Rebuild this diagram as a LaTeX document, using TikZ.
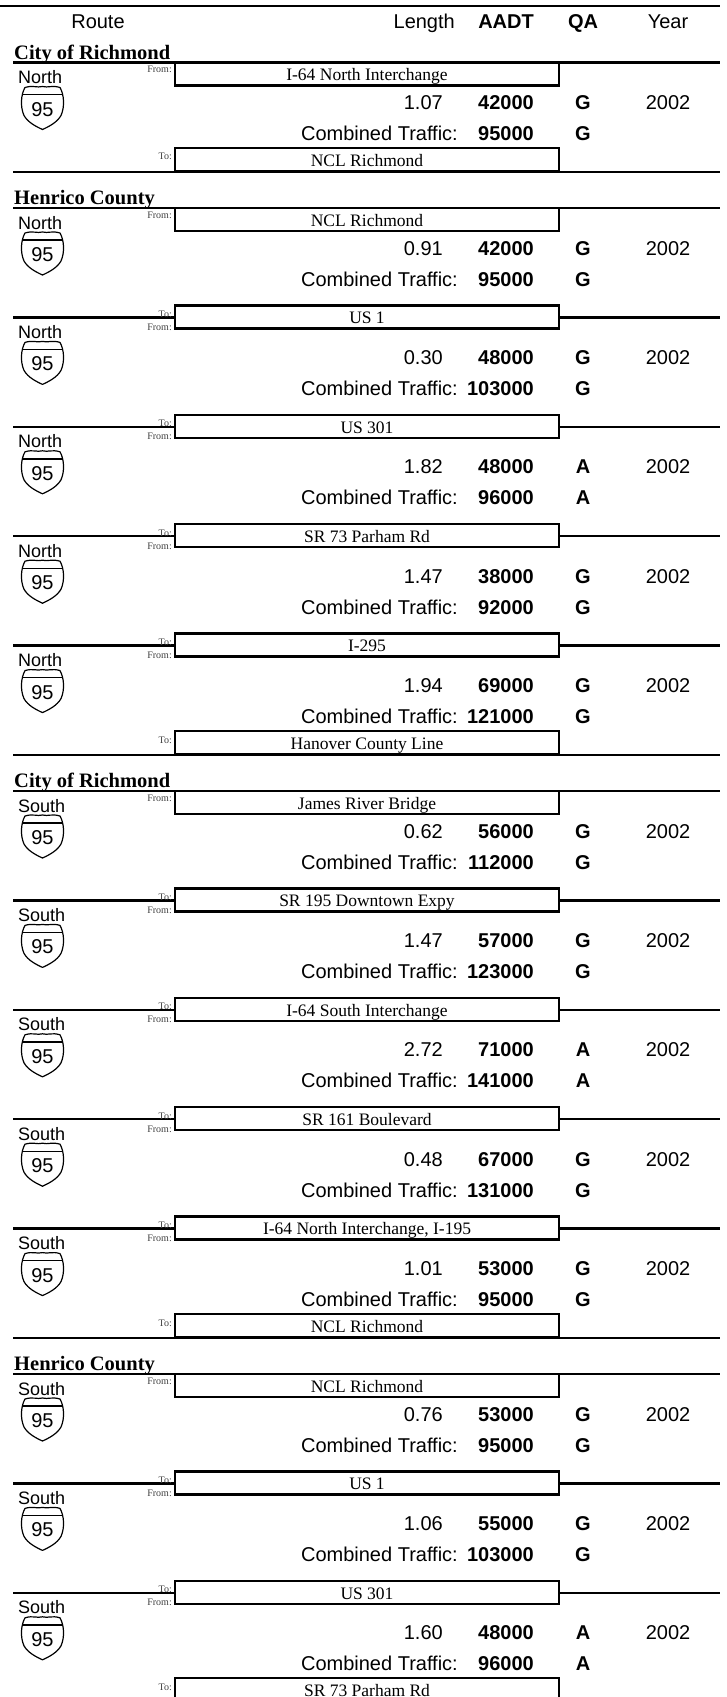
\documentclass[tikz,border=0pt]{standalone}
\usepackage{fontspec}
\setmainfont{Liberation Sans}
\newfontfamily\serifface{Liberation Serif}
\usepackage{tikz}

\begin{document}
\begin{tikzpicture}[x=1pt, y=-1pt,
    rule/.style={line width=2.5pt},
    county/.style={font=\serifface\bfseries\fontsize{20.5}{24}\selectfont, inner sep=0pt, anchor=base west},
    dir/.style={font=\fontsize{18}{20}\selectfont, inner sep=0pt, anchor=base west},
    num/.style={font=\fontsize{20}{24}\selectfont, inner sep=0pt, anchor=base east},
    bnum/.style={font=\bfseries\fontsize{20}{24}\selectfont, inner sep=0pt, anchor=base east},
    grade/.style={font=\bfseries\fontsize{20}{24}\selectfont, inner sep=0pt, anchor=base},
    yr/.style={font=\fontsize{20}{24}\selectfont, inner sep=0pt, anchor=base},
    stop/.style={draw, line width=2.5pt, fill=white, minimum width=384pt, minimum height=23pt, inner sep=0pt, text height=13.6pt, text depth=0pt, font=\serifface\fontsize{17.5}{20}\selectfont},
    tag/.style={font=\serifface\fontsize{10}{12}\selectfont, text=black!75, inner sep=0pt, anchor=base east},
    shield/.pic={
        \draw [line width=1.2pt, line join=round] (4, 1) .. controls (12, -1.5) and (16, 1.5) .. (21.5, 0) .. controls (27, 1.5) and (31, -1.5) .. (39, 1)
            .. controls (43, 8) and (44, 20) .. (40, 29) .. controls (36, 36) and (28, 40) .. (21.5, 43)
            .. controls (15, 40) and (7, 36) .. (3, 29) .. controls (-1, 20) and (0, 8) .. (4, 1) -- cycle;
        \draw [line width=1.4pt] (1.6, 8) -- (41.4, 8);
        \node (num) at (21.5, 29.5) [yr] {95};
    }]
    \useasboundingbox (0, 0) rectangle (727, 1697);
    \clip (0, 0) rectangle (727, 1697);

    \draw [rule] (0, 6) -- (720, 6);
    \draw [rule] (13, 62.5) -- (720, 62.5);
    \draw [rule] (13, 171.9) -- (720, 171.9);
    \draw [rule] (13, 208) -- (720, 208);
    \draw [rule] (13, 317.4) -- (720, 317.4);
    \draw [rule] (13, 426.8) -- (720, 426.8);
    \draw [rule] (13, 536.2) -- (720, 536.2);
    \draw [rule] (13, 645.6) -- (720, 645.6);
    \draw [rule] (13, 755) -- (720, 755);
    \draw [rule] (13, 791) -- (720, 791);
    \draw [rule] (13, 900.4) -- (720, 900.4);
    \draw [rule] (13, 1009.8) -- (720, 1009.8);
    \draw [rule] (13, 1119.2) -- (720, 1119.2);
    \draw [rule] (13, 1228.6) -- (720, 1228.6);
    \draw [rule] (13, 1338) -- (720, 1338);
    \draw [rule] (13, 1374) -- (720, 1374);
    \draw [rule] (13, 1483.4) -- (720, 1483.4);
    \draw [rule] (13, 1592.8) -- (720, 1592.8);

    \node (route) at (98, 28.5) [yr] {Route};
    \node (length) at (455, 28.5) [num] {Length};
    \node (aadt) at (534, 28.5) [bnum] {AADT};
    \node (qa) at (583, 28.5) [grade] {QA};
    \node (year) at (668, 28.5) [yr] {Year};

    \begin{scope}
        \clip (0, 30) rectangle (400, 62.5) (0, 175) rectangle (400, 208) (0, 758) rectangle (400, 791) (0, 1341) rectangle (400, 1374);
        \node (city1) at (14, 59.2) [county] {City of Richmond};
        \node (henrico1) at (14, 204.7) [county] {Henrico County};
        \node (city2) at (14, 787.7) [county] {City of Richmond};
        \node (henrico2) at (14, 1370.7) [county] {Henrico County};
    \end{scope}

    \node (s0) at (367, 74) [stop] {I-64 North Interchange};
    \node (s1) at (367, 159.4) [stop] {NCL Richmond};
    \node (s2) at (367, 219.5) [stop] {NCL Richmond};
    \node (s3) at (367, 316.9) [stop] {US 1};
    \node (s4) at (367, 426.3) [stop] {US 301};
    \node (s5) at (367, 535.7) [stop] {SR 73 Parham Rd};
    \node (s6) at (367, 645.1) [stop] {I-295};
    \node (s7) at (367, 742.5) [stop] {Hanover County Line};
    \node (s8) at (367, 802.5) [stop] {James River Bridge};
    \node (s9) at (367, 899.9) [stop] {SR 195 Downtown Expy};
    \node (s10) at (367, 1009.3) [stop] {I-64 South Interchange};
    \node (s11) at (367, 1118.7) [stop] {SR 161 Boulevard};
    \node (s12) at (367, 1228.1) [stop] {I-64 North Interchange, I-195};
    \node (s13) at (367, 1325.5) [stop] {NCL Richmond};
    \node (s14) at (367, 1385.5) [stop] {NCL Richmond};
    \node (s15) at (367, 1482.9) [stop] {US 1};
    \node (s16) at (367, 1592.3) [stop] {US 301};
    \node (s17) at (367, 1689.7) [stop] {SR 73 Parham Rd};

    \node (f0) at (172, 72.5) [tag] {From:};
    \node (t1) at (172, 159.9) [tag] {To:};
    \node (f2) at (172, 218) [tag] {From:};
    \node (t3) at (172, 317.4) [tag] {To:};
    \node (f3) at (172, 330.4) [tag] {From:};
    \node (t4) at (172, 426.8) [tag] {To:};
    \node (f4) at (172, 439.8) [tag] {From:};
    \node (t5) at (172, 536.2) [tag] {To:};
    \node (f5) at (172, 549.2) [tag] {From:};
    \node (t6) at (172, 645.6) [tag] {To:};
    \node (f6) at (172, 658.6) [tag] {From:};
    \node (t7) at (172, 743) [tag] {To:};
    \node (f8) at (172, 801) [tag] {From:};
    \node (t9) at (172, 900.4) [tag] {To:};
    \node (f9) at (172, 913.4) [tag] {From:};
    \node (t10) at (172, 1009.8) [tag] {To:};
    \node (f10) at (172, 1022.8) [tag] {From:};
    \node (t11) at (172, 1119.2) [tag] {To:};
    \node (f11) at (172, 1132.2) [tag] {From:};
    \node (t12) at (172, 1228.6) [tag] {To:};
    \node (f12) at (172, 1241.6) [tag] {From:};
    \node (t13) at (172, 1326) [tag] {To:};
    \node (f14) at (172, 1384) [tag] {From:};
    \node (t15) at (172, 1483.4) [tag] {To:};
    \node (f15) at (172, 1496.4) [tag] {From:};
    \node (t16) at (172, 1592.8) [tag] {To:};
    \node (f16) at (172, 1605.8) [tag] {From:};
    \node (t17) at (172, 1690.2) [tag] {To:};

    \node (d1) at (18, 83.5) [dir] {North};
    \pic (sh1) at (21, 86.5) {shield};
    \node (l1) at (443, 109.5) [num] {1.07};
    \node (a1) at (534, 109.5) [bnum] {42000};
    \node (q1) at (583, 109.5) [grade] {G};
    \node (y1) at (668, 109.5) [yr] {2002};
    \node (c1) at (458, 140.5) [num] {Combined Traffic:};
    \node (ca1) at (534, 140.5) [bnum] {95000};
    \node (cq1) at (583, 140.5) [grade] {G};

    \node (d2) at (18, 229) [dir] {North};
    \pic (sh2) at (21, 232) {shield};
    \node (l2) at (443, 255) [num] {0.91};
    \node (a2) at (534, 255) [bnum] {42000};
    \node (q2) at (583, 255) [grade] {G};
    \node (y2) at (668, 255) [yr] {2002};
    \node (c2) at (458, 286) [num] {Combined Traffic:};
    \node (ca2) at (534, 286) [bnum] {95000};
    \node (cq2) at (583, 286) [grade] {G};

    \node (d3) at (18, 338.4) [dir] {North};
    \pic (sh3) at (21, 341.4) {shield};
    \node (l3) at (443, 364.4) [num] {0.30};
    \node (a3) at (534, 364.4) [bnum] {48000};
    \node (q3) at (583, 364.4) [grade] {G};
    \node (y3) at (668, 364.4) [yr] {2002};
    \node (c3) at (458, 395.4) [num] {Combined Traffic:};
    \node (ca3) at (534, 395.4) [bnum] {103000};
    \node (cq3) at (583, 395.4) [grade] {G};

    \node (d4) at (18, 447.8) [dir] {North};
    \pic (sh4) at (21, 450.8) {shield};
    \node (l4) at (443, 473.8) [num] {1.82};
    \node (a4) at (534, 473.8) [bnum] {48000};
    \node (q4) at (583, 473.8) [grade] {A};
    \node (y4) at (668, 473.8) [yr] {2002};
    \node (c4) at (458, 504.8) [num] {Combined Traffic:};
    \node (ca4) at (534, 504.8) [bnum] {96000};
    \node (cq4) at (583, 504.8) [grade] {A};

    \node (d5) at (18, 557.2) [dir] {North};
    \pic (sh5) at (21, 560.2) {shield};
    \node (l5) at (443, 583.2) [num] {1.47};
    \node (a5) at (534, 583.2) [bnum] {38000};
    \node (q5) at (583, 583.2) [grade] {G};
    \node (y5) at (668, 583.2) [yr] {2002};
    \node (c5) at (458, 614.2) [num] {Combined Traffic:};
    \node (ca5) at (534, 614.2) [bnum] {92000};
    \node (cq5) at (583, 614.2) [grade] {G};

    \node (d6) at (18, 666.6) [dir] {North};
    \pic (sh6) at (21, 669.6) {shield};
    \node (l6) at (443, 692.6) [num] {1.94};
    \node (a6) at (534, 692.6) [bnum] {69000};
    \node (q6) at (583, 692.6) [grade] {G};
    \node (y6) at (668, 692.6) [yr] {2002};
    \node (c6) at (458, 723.6) [num] {Combined Traffic:};
    \node (ca6) at (534, 723.6) [bnum] {121000};
    \node (cq6) at (583, 723.6) [grade] {G};

    \node (d7) at (18, 812) [dir] {South};
    \pic (sh7) at (21, 815) {shield};
    \node (l7) at (443, 838) [num] {0.62};
    \node (a7) at (534, 838) [bnum] {56000};
    \node (q7) at (583, 838) [grade] {G};
    \node (y7) at (668, 838) [yr] {2002};
    \node (c7) at (458, 869) [num] {Combined Traffic:};
    \node (ca7) at (534, 869) [bnum] {112000};
    \node (cq7) at (583, 869) [grade] {G};

    \node (d8) at (18, 921.4) [dir] {South};
    \pic (sh8) at (21, 924.4) {shield};
    \node (l8) at (443, 947.4) [num] {1.47};
    \node (a8) at (534, 947.4) [bnum] {57000};
    \node (q8) at (583, 947.4) [grade] {G};
    \node (y8) at (668, 947.4) [yr] {2002};
    \node (c8) at (458, 978.4) [num] {Combined Traffic:};
    \node (ca8) at (534, 978.4) [bnum] {123000};
    \node (cq8) at (583, 978.4) [grade] {G};

    \node (d9) at (18, 1030.8) [dir] {South};
    \pic (sh9) at (21, 1033.8) {shield};
    \node (l9) at (443, 1056.8) [num] {2.72};
    \node (a9) at (534, 1056.8) [bnum] {71000};
    \node (q9) at (583, 1056.8) [grade] {A};
    \node (y9) at (668, 1056.8) [yr] {2002};
    \node (c9) at (458, 1087.8) [num] {Combined Traffic:};
    \node (ca9) at (534, 1087.8) [bnum] {141000};
    \node (cq9) at (583, 1087.8) [grade] {A};

    \node (d10) at (18, 1140.2) [dir] {South};
    \pic (sh10) at (21, 1143.2) {shield};
    \node (l10) at (443, 1166.2) [num] {0.48};
    \node (a10) at (534, 1166.2) [bnum] {67000};
    \node (q10) at (583, 1166.2) [grade] {G};
    \node (y10) at (668, 1166.2) [yr] {2002};
    \node (c10) at (458, 1197.2) [num] {Combined Traffic:};
    \node (ca10) at (534, 1197.2) [bnum] {131000};
    \node (cq10) at (583, 1197.2) [grade] {G};

    \node (d11) at (18, 1249.6) [dir] {South};
    \pic (sh11) at (21, 1252.6) {shield};
    \node (l11) at (443, 1275.6) [num] {1.01};
    \node (a11) at (534, 1275.6) [bnum] {53000};
    \node (q11) at (583, 1275.6) [grade] {G};
    \node (y11) at (668, 1275.6) [yr] {2002};
    \node (c11) at (458, 1306.6) [num] {Combined Traffic:};
    \node (ca11) at (534, 1306.6) [bnum] {95000};
    \node (cq11) at (583, 1306.6) [grade] {G};

    \node (d12) at (18, 1395) [dir] {South};
    \pic (sh12) at (21, 1398) {shield};
    \node (l12) at (443, 1421) [num] {0.76};
    \node (a12) at (534, 1421) [bnum] {53000};
    \node (q12) at (583, 1421) [grade] {G};
    \node (y12) at (668, 1421) [yr] {2002};
    \node (c12) at (458, 1452) [num] {Combined Traffic:};
    \node (ca12) at (534, 1452) [bnum] {95000};
    \node (cq12) at (583, 1452) [grade] {G};

    \node (d13) at (18, 1504.4) [dir] {South};
    \pic (sh13) at (21, 1507.4) {shield};
    \node (l13) at (443, 1530.4) [num] {1.06};
    \node (a13) at (534, 1530.4) [bnum] {55000};
    \node (q13) at (583, 1530.4) [grade] {G};
    \node (y13) at (668, 1530.4) [yr] {2002};
    \node (c13) at (458, 1561.4) [num] {Combined Traffic:};
    \node (ca13) at (534, 1561.4) [bnum] {103000};
    \node (cq13) at (583, 1561.4) [grade] {G};

    \node (d14) at (18, 1613.8) [dir] {South};
    \pic (sh14) at (21, 1616.8) {shield};
    \node (l14) at (443, 1639.8) [num] {1.60};
    \node (a14) at (534, 1639.8) [bnum] {48000};
    \node (q14) at (583, 1639.8) [grade] {A};
    \node (y14) at (668, 1639.8) [yr] {2002};
    \node (c14) at (458, 1670.8) [num] {Combined Traffic:};
    \node (ca14) at (534, 1670.8) [bnum] {96000};
    \node (cq14) at (583, 1670.8) [grade] {A};
\end{tikzpicture}
\end{document}
